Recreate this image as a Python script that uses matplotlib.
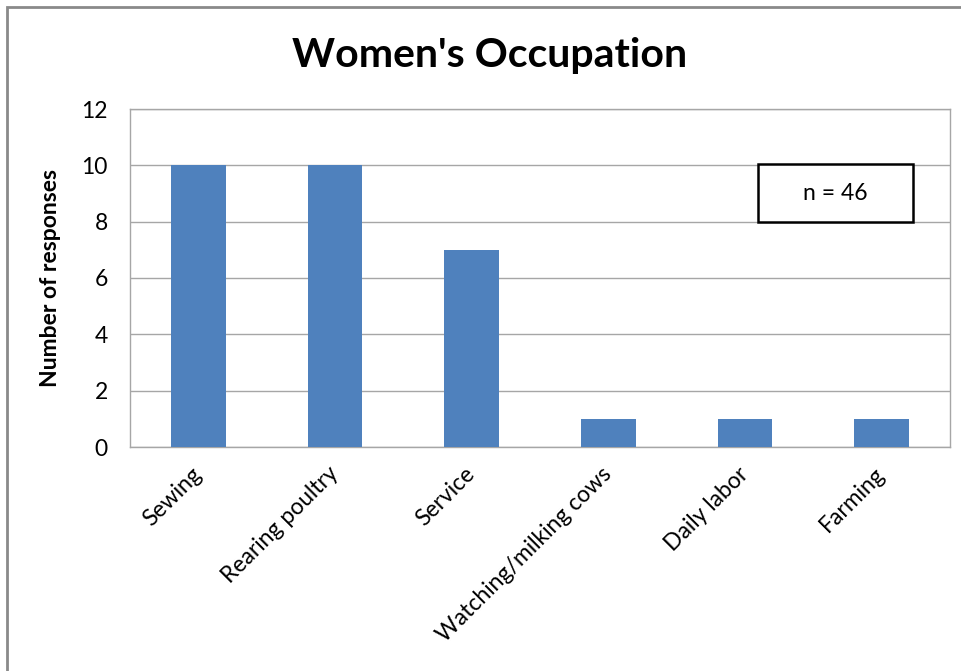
import matplotlib.pyplot as plt
from matplotlib.patches import Rectangle

categories = ["Sewing", "Rearing poultry", "Service", "Watching/milking cows", "Daily labor", "Farming"]
responses = [10, 10, 7, 1, 1, 1]
yticks = [0, 2, 4, 6, 8, 10, 12]

plt.rcParams["font.family"] = ["Lato", "DejaVu Sans"]

W, H = 962, 671
fig = plt.figure(figsize=(W / 100, H / 100), dpi=100)


def fx(px):
    return px / W


def fy(py):
    return 1 - py / H


# outer chart border (only left and top visible in the reference)
fig.patches.append(Rectangle((fx(7), fy(H + 10)), fx(W + 10), fy(7) - fy(H + 10),
                             transform=fig.transFigure, fill=False,
                             edgecolor="#8a8a8a", lw=2))

ax = fig.add_axes([fx(130), fy(447), fx(950) - fx(130), fy(109) - fy(447)])
x = range(len(categories))
ax.bar(x, responses, width=0.4, color="#4F81BD", zorder=3)

ax.set_xlim(-0.5, len(categories) - 0.5)
ax.set_ylim(0, 12)
ax.set_yticks(yticks)
ax.yaxis.grid(True, color="#a6a6a6", lw=1, zorder=0)
for s in ax.spines.values():
    s.set_color("#a6a6a6")
    s.set_linewidth(1)

ax.tick_params(axis="y", length=0, pad=16, labelsize=16.5)
ax.tick_params(axis="x", length=0, pad=17, labelsize=16.5)
ax.set_xticks(list(x))
ax.set_xticklabels(categories, rotation=45, ha="right", va="center", rotation_mode="anchor")

ax.set_ylabel("Number of responses", fontsize=16.5, fontweight="bold")
ax.yaxis.set_label_coords((61 - 130) / (950 - 130), 0.5)

fig.text(fx(490), fy(56), "Women's Occupation", fontsize=29.5, fontweight="bold",
         ha="center", va="center")

# n box
fig.patches.append(Rectangle((fx(758), fy(222)), fx(913) - fx(758), fy(164) - fy(222),
                             transform=fig.transFigure, facecolor="white",
                             edgecolor="black", lw=1.8, zorder=5))
fig.text(fx(835), fy(193), "n = 46", fontsize=16.5, ha="center", va="center", zorder=6)

fig.savefig("out.png", dpi=100)
